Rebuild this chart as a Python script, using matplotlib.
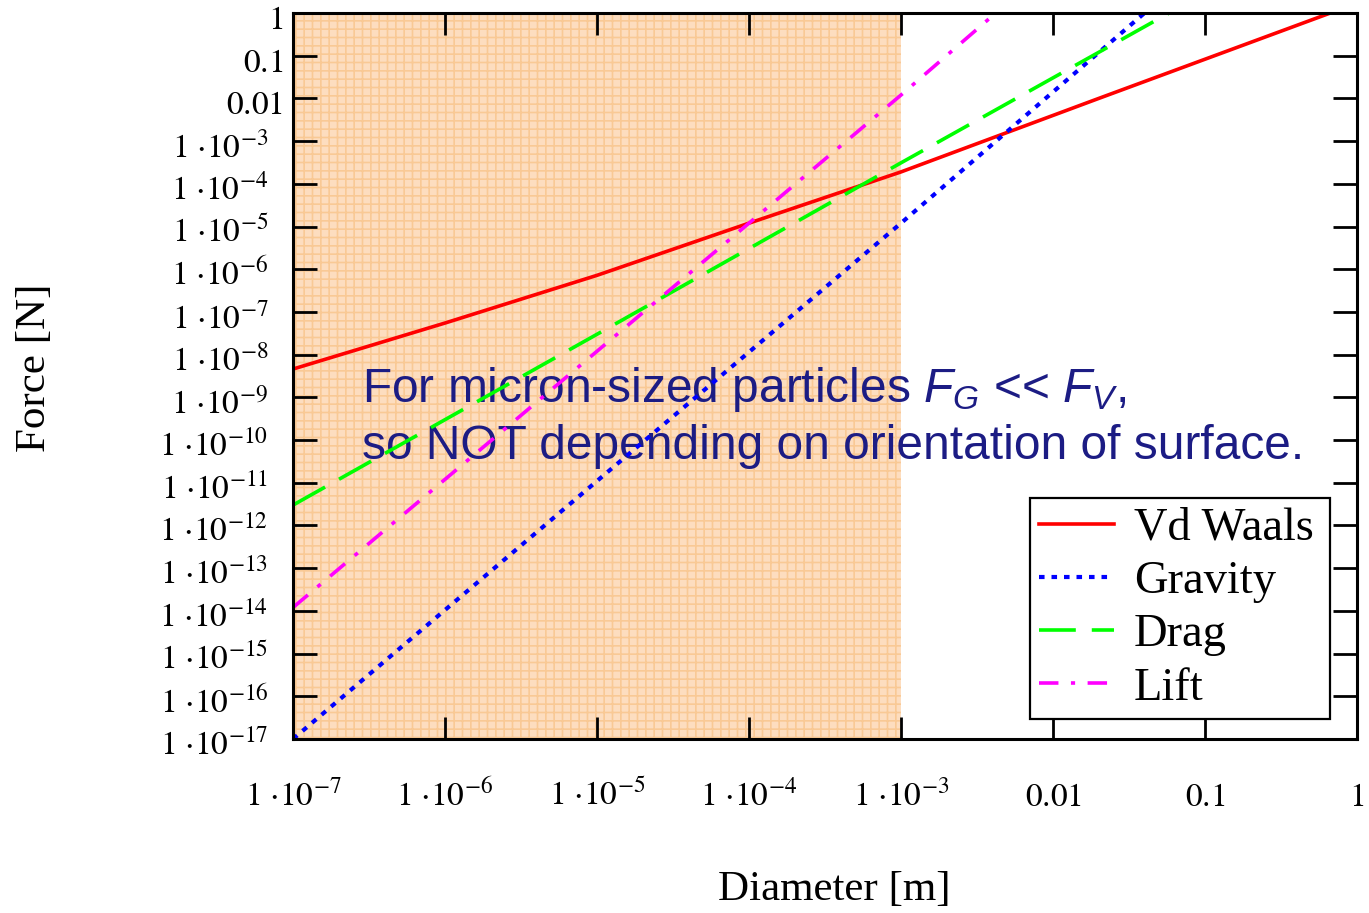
import matplotlib
matplotlib.use('Agg')
import matplotlib.pyplot as plt
from matplotlib.ticker import NullLocator
from matplotlib.transforms import ScaledTranslation

# values (diameter [m] -> force [N])
vdw_d = [1e-7, 1e-6, 1e-5, 1e-4, 1e-3, 2.0e-2, 1.0]
vdw_f = [4.6e-9, 5.5e-8, 7.2e-7, 1.2e-5, 1.9e-4, 1.0e-2, 1.7]

grav_d = [1e-7, 1e-5, 1e-3, 4.0e-2]
grav_f = [1.0e-17, 1.1e-11, 1.2e-5, 1.0]

drag_d = [1e-7, 1e-5, 1e-3, 5.8e-2]
drag_f = [3.0e-12, 3.0e-8, 3.1e-4, 1.0]

lift_d = [1e-7, 1e-5, 1e-3, 4.2e-3]
lift_f = [1.2e-14, 1.2e-8, 1.2e-2, 1.0]

shade_range = [1e-7, 1e-3]

x_exps = list(range(-7, 1))
y_exps = list(range(-17, 1))
plain_labels = {0: '1', -1: '0.1', -2: '0.01'}


def tick_label(e):
    if e in plain_labels:
        return '$%s$' % plain_labels[e]
    return r'$1\ {\cdot}10^{-%d}$' % (-e)


x_labels = [tick_label(e) for e in x_exps]
y_labels = [tick_label(e) for e in y_exps]

plt.rcParams['font.family'] = ['Liberation Serif', 'DejaVu Serif']
plt.rcParams['mathtext.fontset'] = 'custom'
plt.rcParams['mathtext.rm'] = 'Liberation Sans'
plt.rcParams['mathtext.it'] = 'Liberation Sans:italic'
plt.rcParams['lines.scale_dashes'] = False
plt.rcParams['hatch.linewidth'] = 1.2

fig = plt.figure(figsize=(13.69, 9.13), dpi=100)
ax = fig.add_axes([293 / 1369, 1 - 739 / 913, 1064 / 1369, 726 / 913])
ax.set_xscale('log')
ax.set_yscale('log')
ax.set_xlim(1e-7, 1)
ax.set_ylim(1e-17, 1)

# shaded "micron" region with its fine grid texture
ax.axvspan(shade_range[0], shade_range[1], facecolor='#FDDDBF',
           edgecolor='#F9C995', hatch='++', linewidth=0, zorder=0.5)

lw = 2.6
ax.plot(vdw_d, vdw_f, color='#FF0000', lw=lw, label='Vd Waals', zorder=2.5)
ax.plot(grav_d, grav_f, color='#0000FF', lw=3.0, linestyle=(0, (4.0, 5.0)),
        label='Gravity', zorder=2.5)
ax.plot(drag_d, drag_f, color='#00FF00', lw=lw, linestyle=(0, (26.5, 11.5)),
        label='Drag', zorder=2.5)
ax.plot(lift_d, lift_f, color='#FF00FF', lw=lw, linestyle=(0, (14, 9, 3, 9)),
        label='Lift', zorder=2.5)

# ticks
ax.set_xticks([10.0 ** e for e in x_exps], x_labels, math_fontfamily='stix', fontsize=24)
ax.set_yticks([10.0 ** e for e in y_exps], y_labels, math_fontfamily='stix', fontsize=24)
ax.xaxis.set_minor_locator(NullLocator())
ax.yaxis.set_minor_locator(NullLocator())
ax.tick_params(axis='x', direction='in', length=16, width=2, top=True, pad=48)
ax.tick_params(axis='y', direction='in', length=17, width=2, right=True, pad=7)
for sp in ax.spines.values():
    sp.set_linewidth(2.2)

for lab in ax.get_xticklabels():
    lab.set_va('baseline')
# y labels: baseline sits a bit below the tick, exponent labels pushed left
for e, lab in zip(y_exps, ax.get_yticklabels()):
    dx = 0 if e in plain_labels else -15 / 100
    lab.set_va('baseline')
    lab.set_transform(lab.get_transform() + ScaledTranslation(dx, -16 / 100, fig.dpi_scale_trans))

ax.set_xlabel('Diameter [m]', fontsize=31, va='center')
ax.xaxis.set_label_coords(0.509, -0.208)
ax.set_ylabel('Force [N]', fontsize=31, va='center')
ax.yaxis.set_label_coords(-0.2425, 0.511)

note = dict(fontsize=34.5, color='#1C1C84', family='Liberation Sans',
            math_fontfamily='custom', transform=ax.transAxes, va='baseline', zorder=2)
ax.text(0.065, 0.464, r'For micron-sized particles $F_G$ << $F_V$,', **note)
ax.text(0.065, 0.386, 'so NOT depending on orientation of surface.', **note)

# legend box stretched to the width seen in the reference
leg = ax.legend(loc='upper left', bbox_to_anchor=(0.6927, 0.033, 0.282, 0.299),
                mode='expand', borderaxespad=0,
                fontsize=33.5, fancybox=False, framealpha=1, edgecolor='black',
                handlelength=1.6, handletextpad=0.43, labelspacing=0.23,
                borderpad=0.2)
leg.get_frame().set_linewidth(1.6)
leg.set_zorder(5)

fig.savefig('out.png', dpi=100)
